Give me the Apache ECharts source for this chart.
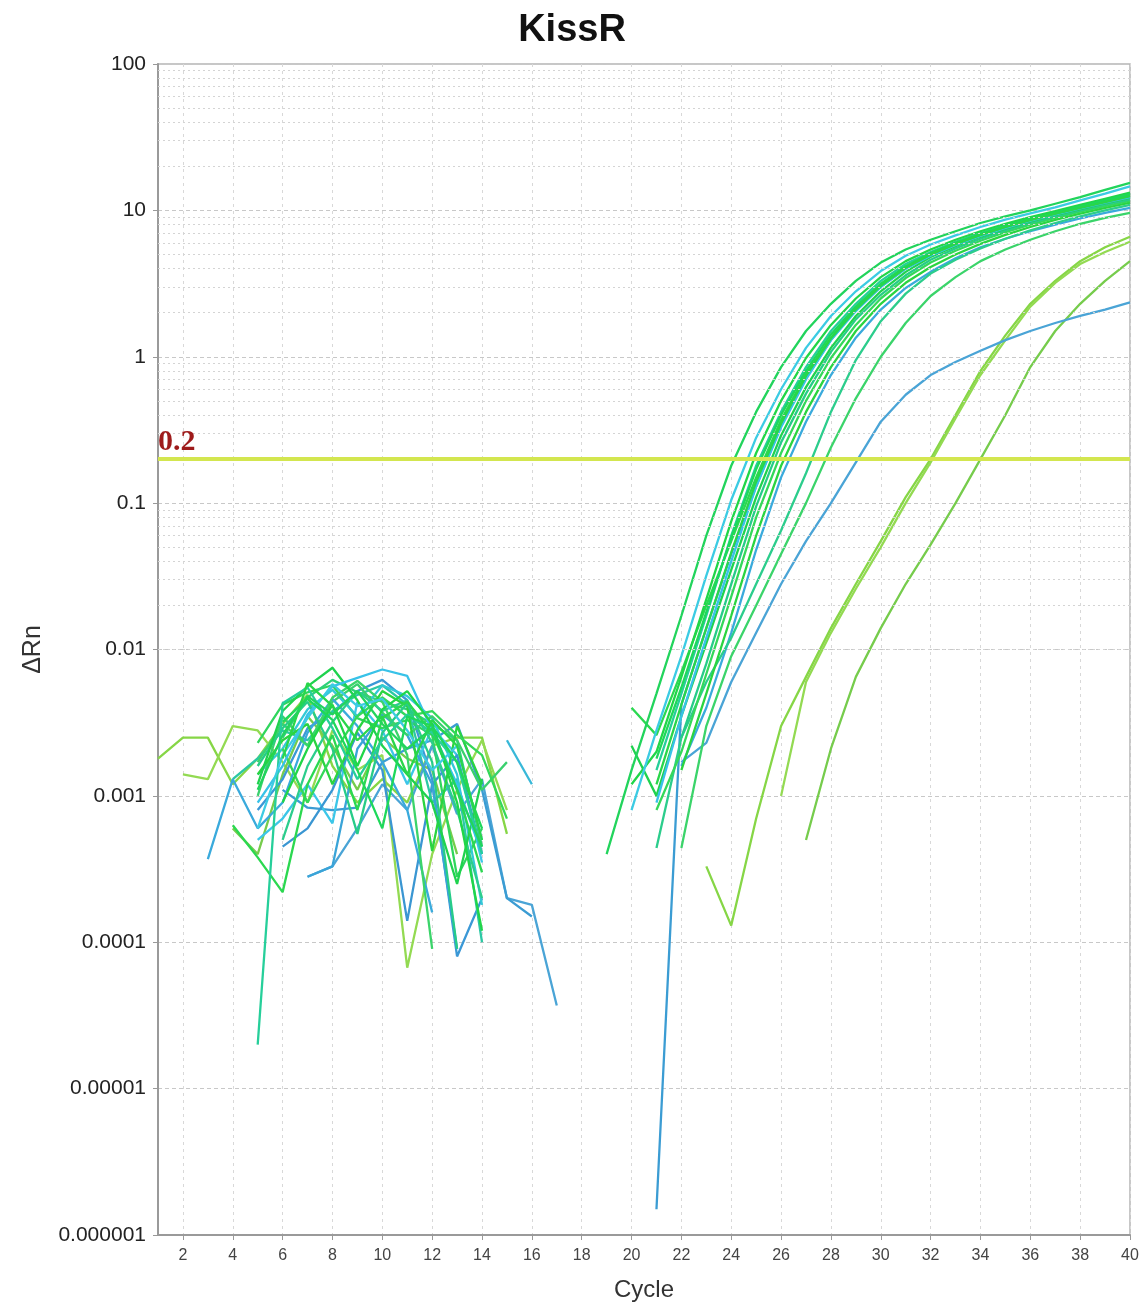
<!DOCTYPE html>
<html><head><meta charset="utf-8">
<script src="https://cdn.jsdelivr.net/npm/echarts@6/dist/echarts.min.js"></script>
<style>html,body{margin:0;padding:0;background:#fff}#c{width:1148px;height:1308px}</style>
</head><body><div id="c"></div>
<script>
const _ = null;
const xTicks = [2,4,6,8,10,12,14,16,18,20,22,24,26,28,30,32,34,36,38,40];
const yTickLabels = ['0.000001','0.00001','0.0001','0.001','0.01','0.1','1','10','100'];
const threshold = 0.2;

// Baseline (cycles 1-18) and amplification (cycles 19-40) per well
const s01Base = [_,_,_,_,0.0011,0.0026,0.0048,0.0036,0.0052,0.0031,0.0021,0.0029,0.0011,0.00045,_,_,_,_];
const s01Amp  = [0.0004,0.0015,0.005,0.017,0.06,0.18,0.42,0.85,1.5,2.3,3.3,4.4,5.4,6.3,7.2,8.2,9.1,10,11.1,12.3,13.8,15.4];
const s02Base = [_,_,_,_,0.0006,0.0019,0.0034,0.0058,0.0041,0.0046,0.0028,0.0015,0.0022,0.0005,_,_,_,_];
const s02Amp  = [_,0.0008,0.0028,0.009,0.032,0.105,0.28,0.6,1.15,1.9,2.8,3.85,4.9,5.85,6.75,7.7,8.65,9.55,10.5,11.7,13,14.6];
const s03Base = [_,_,_,_,_,0.0009,0.0021,0.0042,0.0016,0.0039,0.0052,0.0031,0.0009,0.00012,_,_,_,_];
const s03Amp  = [_,0.0012,0.002,0.0065,0.022,0.075,0.22,0.5,0.98,1.65,2.5,3.5,4.5,5.4,6.3,7.2,8.1,9.0,9.9,10.9,12,13.2];
const s04Base = [_,_,_,_,0.00002,0.0043,0.0055,0.0029,0.0013,0.0024,0.0036,0.0027,0.0017,0.0004,_,_,_,_];
const s04Amp  = [_,_,0.0015,0.005,0.017,0.06,0.18,0.42,0.85,1.5,2.3,3.3,4.3,5.2,6.1,7.0,7.9,8.8,9.7,10.7,11.8,13];
const s05Base = [_,_,_,0.00063,0.00038,0.00022,0.0012,0.0026,0.0008,0.0034,0.0044,0.0027,0.0011,0.0003,_,_,_,_];
const s05Amp  = [_,0.004,0.0026,0.007,0.02,0.055,0.15,0.37,0.76,1.35,2.15,3.1,4.1,5.0,5.9,6.8,7.7,8.6,9.5,10.5,11.5,12.6];
const s06Base = [_,_,_,_,0.0009,0.0016,0.0036,0.0056,0.0064,0.0073,0.0066,0.0028,0.0012,0.0004,_,_,_,_];
const s06Amp  = [_,_,0.0009,0.0035,0.012,0.04,0.13,0.33,0.7,1.3,2.05,3.0,4.0,4.9,5.8,6.7,7.6,8.5,9.4,10.3,11.3,12.3];
const s07Base = [_,_,_,_,0.0012,0.0038,0.0056,0.0075,0.0045,0.0022,0.0014,0.0009,0.00025,0.0013,_,_,_,_];
const s07Amp  = [_,0.0022,0.001,0.0035,0.011,0.035,0.11,0.29,0.62,1.15,1.9,2.8,3.8,4.8,5.7,6.6,7.5,8.4,9.3,10.2,11.2,12.2];
const s08Base = [_,_,_,_,0.0016,0.0029,0.0044,0.0021,0.00055,0.0027,0.0043,0.0017,0.00009,_,_,_,_,_];
const s08Amp  = [_,_,_,0.0025,0.008,0.028,0.095,0.26,0.56,1.08,1.8,2.65,3.6,4.6,5.5,6.4,7.3,8.2,9.1,10,11,11.9];
const s09Base = [_,_,_,_,_,0.0021,0.0009,0.0019,0.0035,0.0047,0.0035,0.0038,0.0026,0.0019,0.0007,_,_,_];
const s09Amp  = [_,_,0.0008,0.002,0.0068,0.023,0.08,0.22,0.5,0.98,1.65,2.5,3.45,4.4,5.3,6.2,7.1,8.0,8.9,9.8,10.7,11.6];
const s10Base = [_,_,_,_,0.0014,0.0024,0.0031,0.0012,0.0028,0.0052,0.0041,0.00042,0.003,0.0012,_,_,_,_];
const s10Amp  = [_,_,_,0.0015,0.005,0.017,0.06,0.18,0.42,0.85,1.5,2.3,3.2,4.1,5.0,5.9,6.8,7.7,8.6,9.5,10.4,11.3];
const s11Base = [_,_,0.00037,0.0013,0.0006,0.0009,0.0027,0.0046,0.003,0.0017,0.0008,0.00016,_,_,_,_,_,_];
const s11Amp  = [_,_,_,0.0016,0.004,0.013,0.048,0.15,0.36,0.75,1.35,2.1,2.95,3.8,4.7,5.6,6.4,7.2,8.0,8.8,9.6,10.4];
const s12Base = [_,_,_,_,_,0.0032,0.0046,0.0033,0.0015,0.0006,0.0035,0.003,0.0017,0.0006,_,_,_,_];
const s12Amp  = [_,_,0.0018,0.0055,0.018,0.058,0.17,0.4,0.8,1.42,2.2,3.15,4.15,5.1,6.0,6.9,7.8,8.7,9.6,10.6,11.7,12.9];
const s13Base = [_,_,_,_,_,0.0018,0.0059,0.0041,0.0024,0.0035,0.0014,0.0033,0.0022,0.0005,_,_,_,_];
const s13Amp  = [_,_,0.0012,0.0042,0.014,0.046,0.14,0.35,0.74,1.33,2.1,3.05,4.05,5.0,5.9,6.8,7.7,8.6,9.5,10.4,11.4,12.5];
const dBase   = [_,_,_,_,_,0.0011,0.00083,0.0008,0.00083,0.0017,0.0021,0.0024,0.0031,0.0011,0.0002,0.00015,_,_];
const dAmp    = [_,_,0.0000015,0.0042,0.014,0.045,0.13,0.34,0.72,1.3,2.1,3.0,4.0,5.0,5.9,6.8,7.7,8.6,9.5,10.4,11.4,12.4];
const b1Base  = [_,_,_,_,_,0.0005,0.0016,0.0032,0.0052,0.0038,0.0045,0.0023,0.0008,0.0002,_,_,_,_];
const b1Amp   = [_,_,0.00044,0.0025,0.006,0.012,0.028,0.065,0.16,0.42,0.95,1.75,2.7,3.7,4.6,5.5,6.4,7.3,8.2,9.1,10,10.9];
const b2Base  = [_,_,_,_,0.0017,0.0031,0.0022,0.0047,0.0061,0.0044,0.0019,0.00009,_,_,_,_,_,_];
const b2Amp   = [_,_,_,0.00044,0.003,0.009,0.02,0.045,0.1,0.24,0.52,1.0,1.7,2.6,3.5,4.5,5.4,6.3,7.2,8.1,8.9,9.6];
const b3Base  = [_,_,_,_,_,_,0.00028,0.00033,0.0006,0.0012,0.0008,0.0022,0.00075,0.0013,0.0002,0.00018,0.000037,_];
const b3Amp   = [_,_,_,0.0017,0.0023,0.006,0.013,0.028,0.055,0.1,0.19,0.36,0.55,0.75,0.92,1.1,1.3,1.5,1.7,1.9,2.1,2.35];
const g1Base  = [0.0018,0.0025,0.0025,0.0012,0.0018,0.0031,0.0049,0.0016,0.0009,0.0013,0.0009,0.0022,0.0025,0.0025,0.00055,_,_,_];
const g1Amp   = [_,_,_,_,0.00033,0.00013,0.0007,0.003,0.0065,0.014,0.028,0.055,0.11,0.2,0.4,0.8,1.4,2.3,3.3,4.5,5.6,6.6];
const g2Base  = [_,0.0014,0.0013,0.003,0.0028,0.0017,0.0009,0.0028,0.0015,0.0019,0.000067,0.0004,0.0011,0.0024,0.0008,_,_,_];
const g2Amp   = [_,_,_,_,_,_,_,0.001,0.006,0.013,0.026,0.05,0.1,0.19,0.38,0.75,1.3,2.2,3.2,4.3,5.2,6.1];
const g3Base  = [_,_,_,0.0006,0.0004,0.0014,0.0035,0.0022,0.0011,0.0025,0.0018,0.0015,0.0004,_,_,_,_,_];
const g3Amp   = [_,_,_,_,_,_,_,_,0.0005,0.0021,0.0065,0.014,0.028,0.052,0.1,0.2,0.4,0.85,1.5,2.3,3.3,4.5];
// wells without amplification
const n1Base  = [_,_,_,_,0.0008,0.0013,0.0029,0.0037,0.0052,0.0062,0.0045,0.0013,0.00008,0.0002,_,_,_,_];
const n2Base  = [_,_,_,_,0.0005,0.0007,0.0012,0.00065,0.0044,0.0028,0.0012,0.0029,0.0019,0.00035,_,_,_,_];
const n3Base  = [_,_,_,_,_,_,_,_,_,_,_,_,_,_,0.0024,0.0012,_,_];
const n4Base  = [_,_,_,_,_,0.00045,0.0006,0.0011,0.0027,0.0015,0.00014,0.0012,0.0019,0.0004,_,_,_,_];
const n5Base  = [_,_,_,_,0.0023,0.0042,0.0051,0.0057,0.0034,0.0029,0.0033,0.0026,0.00028,0.0006,_,_,_,_];
const n6Base  = [_,_,_,0.0013,0.0018,0.0028,0.0024,0.0038,0.0049,0.0057,0.0042,0.0009,0.0013,0.0001,_,_,_,_];
const n7Base  = [_,_,_,_,_,_,0.00028,0.00033,0.0021,0.0036,0.0026,0.0012,0.00009,_,_,_,_,_];
const n8Base  = [_,_,_,_,_,0.0025,0.0047,0.0062,0.0051,0.0044,0.0039,0.0031,0.0024,0.00045,_,_,_,_];
const n9Base  = [_,_,_,_,0.0014,0.0021,0.0039,0.0053,0.0035,0.0057,0.0048,0.0034,0.0014,0.00018,_,_,_,_];
const n10Base = [_,_,_,_,0.001,0.0035,0.0022,0.0044,0.0058,0.0037,0.0026,0.0035,0.0024,0.0011,0.0017,_,_,_];

const wells = [
  ['g1', g1Base, g1Amp, '#86d646'], ['g2', g2Base, g2Amp, '#93da52'], ['g3', g3Base, g3Amp, '#76cc4c'],
  ['b3', b3Base, b3Amp, '#4aa4d6'], ['d', dBase, dAmp, '#3b9cd3'],
  ['n1', n1Base, null, '#3b98d6'], ['n2', n2Base, null, '#3cc6e8'], ['n3', n3Base, null, '#38b8d8'],
  ['n4', n4Base, null, '#3a96d2'], ['n5', n5Base, null, '#2fd65c'], ['n6', n6Base, null, '#2cc8a4'], ['n7', n7Base, null, '#3aa4d8'],
  ['n8', n8Base, null, '#2dd07a'], ['n9', n9Base, null, '#33c9d6'], ['n10', n10Base, null, '#3ad06e'],
  ['s11', s11Base, s11Amp, '#3aaadc'], ['b2', b2Base, b2Amp, '#3bd46a'], ['b1', b1Base, b1Amp, '#2ccd8c'],
  ['s10', s10Base, s10Amp, '#2ad440'], ['s09', s09Base, s09Amp, '#34d85a'], ['s08', s08Base, s08Amp, '#27cc88'],
  ['s07', s07Base, s07Amp, '#1fd24e'], ['s06', s06Base, s06Amp, '#38c2e8'], ['s05', s05Base, s05Amp, '#2bd850'],
  ['s04', s04Base, s04Amp, '#26cf9a'], ['s03', s03Base, s03Amp, '#20d648'], ['s02', s02Base, s02Amp, '#3ccbe3'],
  ['s12', s12Base, s12Amp, '#1ed85a'], ['s13', s13Base, s13Amp, '#29d64a'], ['s01', s01Base, s01Amp, '#22d45c']
];

const noAmp = Array(22).fill(null);
const series = wells.map(([name, base, ampV, color]) => {
  const vals = base.concat(ampV || noAmp);
  return {
    name, type: 'line', showSymbol: false, symbol: 'none', silent: true,
    connectNulls: false, animation: false,
    lineStyle: { color, width: 2.3 },
    data: vals.map((v, i) => [i + 1, v])
  };
});

// minor log gridlines (2..9 within each decade)
const minorVals = [];
for (let e = -6; e < 2; e++) for (let k = 2; k <= 9; k++) minorVals.push(+(k * Math.pow(10, e)).toPrecision(2));
series.unshift({
  type: 'line', data: [], silent: true, animation: false,
  markLine: { silent: true, symbol: 'none', animation: false, label: { show: false },
    lineStyle: { color: '#d4d4d4', type: [2, 3], width: 1 },
    data: minorVals.map(v => ({ yAxis: v })) }
});
series.push({
  type: 'line', data: [], silent: true, animation: false,
  markLine: { silent: true, symbol: 'none', animation: false,
    lineStyle: { color: '#d3e64f', type: 'solid', width: 4 },
    label: { show: true, position: 'insideStartTop', formatter: String(threshold), distance: [0, 2],
      color: '#9e1b1b', fontFamily: 'Liberation Serif, DejaVu Serif, serif', fontWeight: 'bold', fontSize: 30 },
    data: [{ yAxis: threshold }] }
});

const chart = echarts.init(document.getElementById('c'), null, { renderer: 'canvas' });
chart.setOption({
  backgroundColor: '#fff',
  animation: false,
  title: { text: 'KissR', left: 567, top: 7, textAlign: 'center',
    textStyle: { fontFamily: 'Liberation Sans, Arial, sans-serif', fontWeight: 'bold', fontSize: 38, color: '#111' } },
  grid: { left: 158, right: 18, top: 64, bottom: 73, show: true, borderColor: '#b5b5b5', borderWidth: 1.5 },
  xAxis: {
    type: 'value', min: 1, max: 40, interval: 1,
    name: 'Cycle', nameLocation: 'middle', nameGap: 43,
    nameTextStyle: { fontFamily: 'Liberation Sans, Arial, sans-serif', fontSize: 24, color: '#333' },
    axisLine: { lineStyle: { color: '#9a9a9a', width: 2 } },
    axisTick: { customValues: xTicks, length: 5, lineStyle: { color: '#999' } },
    axisLabel: { customValues: xTicks, fontFamily: 'Liberation Sans, Arial, sans-serif', fontSize: 16, color: '#444', margin: 13 },
    splitLine: { show: true, lineStyle: { color: '#d8d8d8', type: [3, 4], width: 1 } }
  },
  yAxis: {
    type: 'log', logBase: 10, min: 0.000001, max: 100, splitNumber: 8,
    name: 'ΔRn', nameLocation: 'middle', nameGap: 112, nameRotate: 90,
    nameTextStyle: { fontFamily: 'Liberation Sans, Arial, sans-serif', fontSize: 25, color: '#333' },
    axisLine: { show: true, lineStyle: { color: '#9a9a9a', width: 2 } },
    axisTick: { show: true, length: 5, lineStyle: { color: '#999' } },
    axisLabel: { fontFamily: 'Liberation Sans, Arial, sans-serif', fontSize: 21, color: '#222', margin: 12,
      formatter: v => yTickLabels[Math.round(Math.log10(v)) + 6] },
    splitLine: { show: true, lineStyle: { color: '#c8c8c8', type: [4, 3], width: 1 } }
  },
  series
});
</script></body></html>
